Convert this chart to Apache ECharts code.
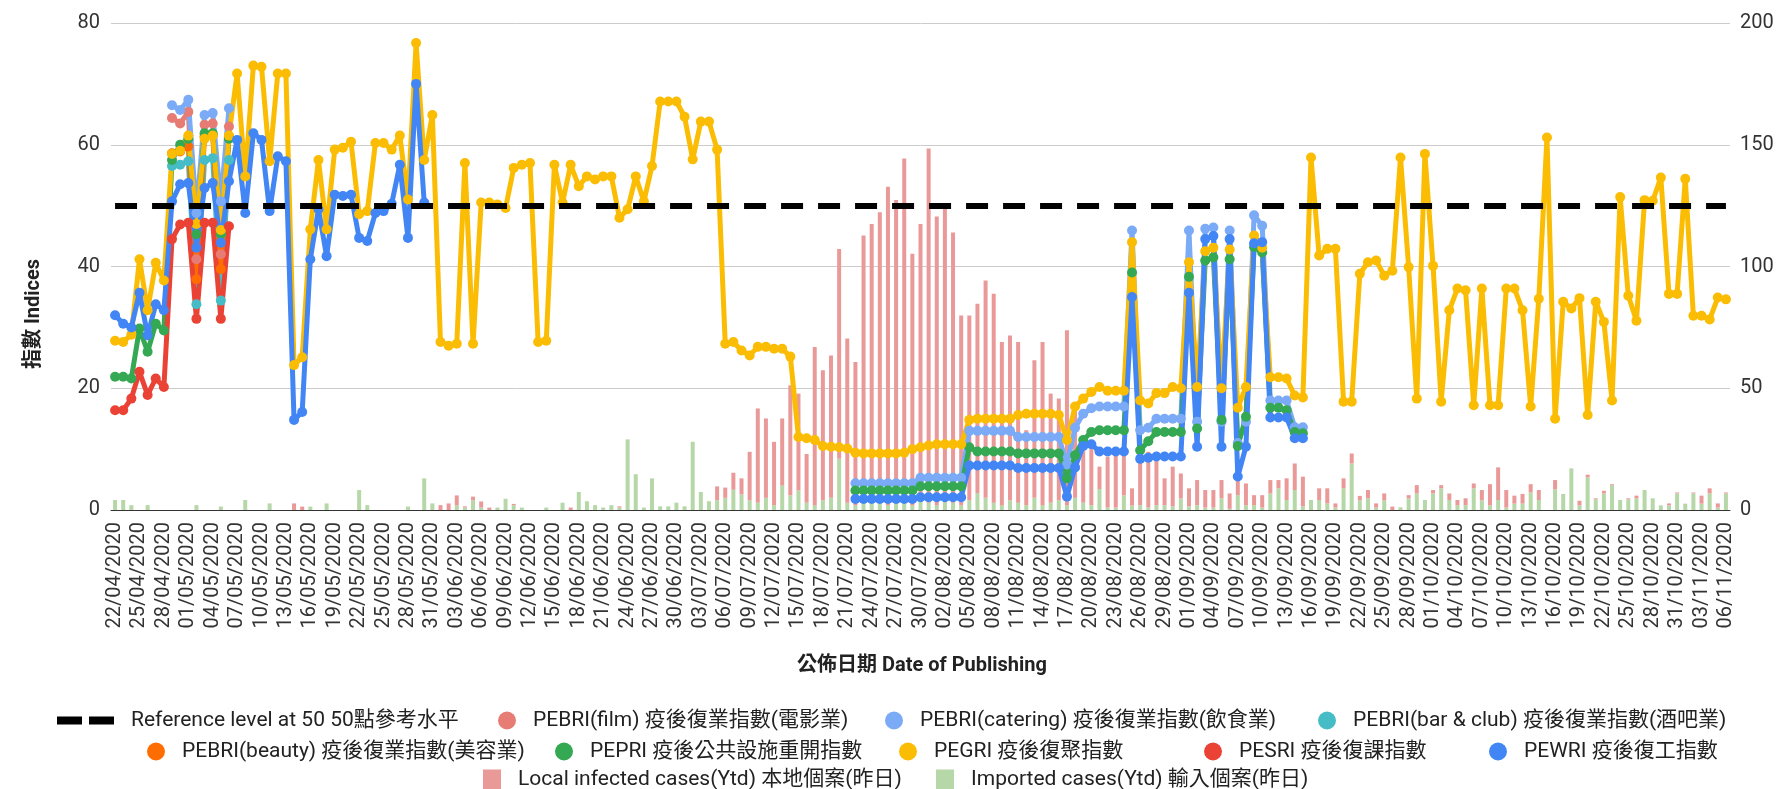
<!DOCTYPE html>
<html>
<head>
<meta charset="utf-8">
<script src="https://cdn.jsdelivr.net/npm/echarts@6.0.0/dist/echarts.min.js"></script>
<style>
html, body { margin: 0; padding: 0; background: #fff; }
#chart { width: 1777px; height: 789px; }
</style>
</head>
<body>
<div id="chart"></div>
<script>
var FONT = 'Roboto, "Noto Sans CJK TC", sans-serif';

// days run 22/04/2020 .. 06/11/2020
var dayCount = 199;
var dates = [];
for (var i = 0; i < dayCount; i++) {
    var d = new Date(Date.UTC(2020, 3, 22 + i));
    dates.push(pad2(d.getUTCDate()) + '/' + pad2(d.getUTCMonth() + 1) + '/' + d.getUTCFullYear());
}
function pad2(n) { return (n < 10 ? '0' : '') + n; }

var REF_LEVEL = 50;

// PEGRI, every day
var pegri = [
    27.8, 27.6, 28.8, 41.2, 32.8, 40.6, 37.7, 58.5, 59, 61.5,
    47, 61, 61.5, 46, 61.5, 71.7, 54.8, 73, 72.8, 57.3,
    71.7, 71.7, 23.8, 25.1, 46.1, 57.5, 46.1, 59.2, 59.5, 60.5,
    48.6, 49.1, 60.3, 60.3, 59.2, 61.5, 51, 76.7, 57.5, 64.9,
    27.6, 27, 27.3, 57, 27.3, 50.5, 50.5, 50.2, 49.6, 56.2,
    56.7, 57, 27.6, 27.8, 56.7, 50.5, 56.7, 53.2, 54.8, 54.3,
    54.8, 54.8, 48, 49.4, 54.8, 50.7, 56.5, 67.1, 67.1, 67.1,
    64.6, 57.6, 63.8, 63.8, 59.2, 27.3, 27.6, 26.2, 25.4, 26.8,
    26.8, 26.5, 26.5, 25.2, 12, 11.8, 11.5, 10.5, 10.4, 10.3,
    10.1, 9.4, 9.3, 9.3, 9.3, 9.3, 9.3, 9.4, 10, 10.3,
    10.6, 10.8, 10.8, 10.8, 10.8, 14.8, 15, 15, 15, 15,
    15, 15.6, 15.8, 15.8, 15.8, 15.8, 15.6, 11.5, 17, 18.3,
    19.4, 20.2, 19.6, 19.6, 19.6, 44, 18, 17.5, 19.2, 19.2,
    20.2, 20, 40.7, 20.2, 42.5, 43.1, 20, 42.8, 16.8, 20.2,
    45.1, 43.1, 21.8, 21.8, 21.6, 18.8, 18.5, 57.9, 41.8, 42.9,
    42.9, 17.8, 17.8, 38.8, 40.7, 41, 38.5, 39.3, 57.9, 39.9,
    18.3, 58.5, 40.1, 17.8, 32.8, 36.4, 36.1, 17.2, 36.4, 17.2,
    17.2, 36.4, 36.4, 32.8, 17, 34.7, 61.2, 15, 34.2, 33.1,
    34.8, 15.6, 34.2, 30.9, 18, 51.4, 35.2, 31.1, 50.9, 50.8,
    54.6, 35.5, 35.5, 54.4, 31.9, 31.9, 31.3, 34.9, 34.6
];

// runs: [first day index, values]
var pewriRuns = [
    [0, [32, 30.6, 30, 35.7, 28.7, 33.8, 32.8, 50.7, 53.5, 53.7,
         43.1, 52.9, 53.7, 43.9, 54, 60.8, 48.8, 61.9, 60.8, 49.1,
         58.1, 57.3, 14.8, 16.1, 41.2, 49.4, 41.7, 51.8, 51.6, 51.8,
         44.7, 44.2, 48.8, 49.1, 50.3, 56.7, 44.7, 70, 50.5]],
    [91, [1.8, 1.8, 1.8, 1.8, 1.8, 1.8, 1.8, 1.8,
          2.1, 2.1, 2.1, 2.1, 2.1, 2.1,
          7.3, 7.3, 7.3, 7.3, 7.3, 7.3,
          6.9, 6.9, 6.9, 6.9, 6.9, 6.9,
          2.2, 7, 10.5, 10.8, 9.6, 9.6, 9.6, 9.6, 35, 8.4,
          8.6, 8.8, 8.8, 8.8, 8.8, 35.7, 10.4, 44.5, 45, 10.4,
          44.5, 5.5, 10.4, 43.8, 44, 15.2, 15.2, 15.2, 11.8, 11.8]]
];
var pepriRuns = [
    [0, [21.9, 21.9, 21.6, 29.8, 26, 30.6, 29.5, 57.5, 60, 61, 45.3, 61.9, 61.9, 45.3, 61]],
    [91, [3.2, 3.2, 3.2, 3.2, 3.2, 3.2, 3.2, 3.2,
          3.9, 3.9, 3.9, 3.9, 3.9, 3.9,
          10.3, 9.6, 9.6, 9.6, 9.6, 9.6,
          9.3, 9.3, 9.3, 9.3, 9.3, 9.3,
          5.2, 9, 11.5, 12.8, 13.1, 13.1, 13.1, 13.1, 39, 9.8,
          11.3, 12.8, 12.8, 12.8, 12.8, 38.3, 13.4, 41, 41.5, 14.8,
          41.2, 10.5, 15.3, 43.2, 42.3, 16.8, 16.8, 16.4, 12.8, 12.6]]
];
var cateringRuns = [
    [7, [66.5, 65.7, 67.4, 48.8, 64.9, 65.2, 50.7, 66]],
    [91, [4.4, 4.4, 4.4, 4.4, 4.4, 4.4, 4.4, 4.4,
          5.3, 5.3, 5.3, 5.3, 5.3, 5.3,
          13, 13, 13, 13, 13, 13,
          12, 12, 12, 12, 12, 12,
          7.5, 13.5, 15.8, 16.7, 17, 17, 17, 17, 45.9, 13.1,
          13.5, 15, 15, 15, 15, 45.9, 14.5, 46.2, 46.4, 14.5,
          45.9, 11, 14.5, 48.4, 46.7, 18, 18, 18, 13.6, 13.6]]
];
var pesriRuns = [[0, [16.4, 16.4, 18.3, 22.7, 18.9, 21.6, 20.2, 44.5, 46.9, 47.2, 31.4, 47.2, 47.2, 31.4, 46.6]]];
var filmRuns = [[7, [64.4, 63.5, 65.4, 41.2, 63.3, 63.5, 42, 63]]];
var barClubRuns = [[7, [56.5, 56.7, 57.3, 33.8, 57.5, 57.8, 34.4, 57.5]]];
var beautyRuns = [[7, [58.6, 58.9, 59.7, 37.9, 61.4, 61.6, 39.6, 61.4]]];

// cases (right axis), every day
var importedCases = [
    4.1, 4.1, 2, 0, 2, 0, 0, 0, 0, 0,
    2, 0, 0, 1.4, 0, 0, 4.1, 0, 0, 2.7,
    0, 0, 0, 0, 1.4, 0, 2.7, 0, 0, 0,
    8.2, 2, 0, 0, 0, 0, 1.4, 0, 13, 2.7,
    0, 0, 2, 1, 4, 1, 0, 1, 4.6, 2,
    1, 0, 0, 1, 0, 3, 0, 7.4, 3.6, 2,
    1, 2, 1, 29, 14.7, 1, 13, 1.5, 1.5, 3,
    1.5, 28, 7.4, 3.6, 4, 5, 8.3, 6.4, 4, 3,
    5, 2, 10, 6, 8, 3, 2, 4, 5, 21,
    3, 2, 4, 3, 6, 2, 3, 5, 2, 4,
    3, 2, 6, 3, 2, 4, 7, 5, 3, 2,
    4, 3, 2, 5, 2, 3, 4, 2, 5, 3,
    2, 8.6, 1, 1, 6, 1.8, 2, 1, 2, 2,
    1.5, 4.8, 1.5, 2, 1, 1, 4.8, 0.5, 6.1, 2,
    2, 1, 6.8, 8.9, 4.1, 8.2, 1.5, 4.1, 4.1, 2.7,
    1, 8.9, 19.1, 4, 4.8, 1, 4, 0, 1.1, 4.8,
    6.8, 4.1, 6.8, 8.9, 4.1, 2, 2, 8.9, 4, 1.9,
    4.1, 1, 2.6, 2.6, 7.2, 4.1, 0, 8.5, 6.6, 17.1,
    1.9, 13.4, 4.4, 6.8, 10.2, 4.1, 4.4, 4.8, 8.2, 4.8,
    1.9, 1.9, 6.8, 2.6, 6.8, 2.6, 6.8, 1, 6.8
];
var localCases = [
    0, 0, 0, 0, 0, 0, 0, 0, 0, 0,
    0, 0, 0, 0, 0, 0, 0, 0, 0, 0,
    0, 0, 2.7, 1.4, 0, 0, 0, 0, 0, 0,
    0, 0, 0, 0, 0, 0, 0, 0, 0, 0,
    2, 2.7, 4, 0.5, 1.5, 2.5, 1, 0, 0, 0.5,
    0, 0, 0, 0, 0, 0, 1, 0, 0, 0,
    0, 0, 0.5, 0, 0, 0, 0, 0, 0, 0,
    0, 0, 0, 0, 5.7, 4.2, 7, 6.6, 19.9, 38.7,
    32.6, 26, 27.6, 45.2, 39.8, 20, 64.9, 53.4, 58.5, 86.2,
    67.4, 58.8, 108.7, 114.5, 116.3, 130.8, 124.3, 139.4, 103.2, 113.5,
    145.5, 118.5, 118.5, 111, 77.9, 75.9, 77.7, 89.3, 85.8, 67,
    67.7, 66, 30.8, 56.5, 67, 44.8, 41.8, 71.8, 38.7, 27,
    23, 9.2, 20.9, 22.2, 17.2, 7.1, 21.2, 22.9, 21.2, 11,
    16.3, 10.2, 7.4, 10.3, 7.2, 7.2, 7.5, 6.3, 8.9, 8.9,
    4.1, 5.1, 5.5, 3.4, 8.9, 10.9, 12.2, 0, 4.8, 6.2,
    1.7, 4.1, 4.1, 1.8, 3.4, 1.7, 2.8, 1.4, 0, 1.3,
    3.4, 0, 1.4, 1.3, 2.7, 2.1, 2.8, 2, 4.2, 8.7,
    13.4, 7.2, 3.3, 4, 3.4, 4.1, 0, 3.8, 0, 0,
    1.9, 1.1, 0.4, 1.1, 0.4, 0, 0.4, 1.1, 0, 0,
    0, 0.8, 0.4, 0, 0.4, 3.3, 2.1, 1.7, 0.4
];

var names = {
    ref: 'Reference level at 50 50點參考水平',
    film: 'PEBRI(film) 疫後復業指數(電影業)',
    catering: 'PEBRI(catering) 疫後復業指數(飲食業)',
    bar: 'PEBRI(bar & club) 疫後復業指數(酒吧業)',
    beauty: 'PEBRI(beauty) 疫後復業指數(美容業)',
    pepri: 'PEPRI 疫後公共設施重開指數',
    pegri: 'PEGRI 疫後復聚指數',
    pesri: 'PESRI 疫後復課指數',
    pewri: 'PEWRI 疫後復工指數',
    local: 'Local infected cases(Ytd) 本地個案(昨日)',
    imported: 'Imported cases(Ytd) 輸入個案(昨日)'
};

function fromRuns(runs) {
    var out = [];
    for (var i = 0; i < dayCount; i++) out.push(null);
    runs.forEach(function (r) {
        r[1].forEach(function (v, k) { out[r[0] + k] = v; });
    });
    return out;
}

function lineSeries(name, color, data) {
    return {
        name: name,
        type: 'line',
        yAxisIndex: 0,
        data: data,
        symbol: 'circle',
        symbolSize: 10,
        showAllSymbol: true,
        lineStyle: { width: 5, color: color },
        itemStyle: { color: color },
        emphasis: { disabled: true },
        z: 3
    };
}

// one legend box per entry so each sits where the original puts it
function legendItem(name, icon, left, rowMid, w, h) {
    return {
        data: [{ name: name, icon: icon }],
        left: left, top: rowMid - 11, padding: 0,
        itemWidth: w, itemHeight: h,
        textStyle: { fontFamily: FONT, fontSize: 21, color: '#222', padding: [0, 0, 0, 12] },
        selectedMode: false
    };
}

var chart = echarts.init(document.getElementById('chart'));
chart.setOption({
    animation: false,
    backgroundColor: '#fff',
    grid: { left: 111, right: 47, top: 23, bottom: 279 },
    xAxis: {
        type: 'category',
        data: dates,
        boundaryGap: true,
        axisTick: { show: false },
        axisLine: { lineStyle: { color: '#333', width: 1 } },
        axisLabel: { interval: 2, rotate: 90, margin: 12, fontFamily: FONT, fontSize: 20, color: '#333' }
    },
    yAxis: [{
        type: 'value', min: 0, max: 80, interval: 20,
        axisLine: { show: false }, axisTick: { show: false },
        axisLabel: { margin: 11, fontFamily: FONT, fontSize: 20, color: '#333' },
        splitLine: { lineStyle: { color: '#cccccc', width: 1 } }
    }, {
        type: 'value', min: 0, max: 200, interval: 50, position: 'right',
        axisLine: { show: false }, axisTick: { show: false },
        axisLabel: { margin: 10, fontFamily: FONT, fontSize: 20, color: '#333' },
        splitLine: { show: false }
    }],
    legend: [
        legendItem(names.ref, 'path://M0 0H25V8H0ZM32 0H57V8H32Z', 57, 721, 57, 8),
        legendItem(names.film, 'circle', 498, 721, 18, 18),
        legendItem(names.catering, 'circle', 885, 721, 18, 18),
        legendItem(names.bar, 'circle', 1318, 721, 18, 18),
        legendItem(names.beauty, 'circle', 147, 752, 18, 18),
        legendItem(names.pepri, 'circle', 555, 752, 18, 18),
        legendItem(names.pegri, 'circle', 899, 752, 18, 18),
        legendItem(names.pesri, 'circle', 1204, 752, 18, 18),
        legendItem(names.pewri, 'circle', 1489, 752, 18, 18),
        legendItem(names.local, 'rect', 483, 780, 18, 20),
        legendItem(names.imported, 'rect', 936, 780, 18, 20)
    ],
    graphic: [{
        type: 'text', x: 34, y: 314, rotation: Math.PI / 2,
        style: { text: '指數 Indices', fill: '#222', font: 'bold 20px ' + FONT, align: 'center', verticalAlign: 'middle' }
    }, {
        type: 'text', x: 922, y: 666,
        style: { text: '公佈日期 Date of Publishing', fill: '#222', font: 'bold 20px ' + FONT, align: 'center', verticalAlign: 'middle' }
    }],
    series: [
        {
            name: names.imported, type: 'bar', yAxisIndex: 1, stack: 'cases',
            data: importedCases, barWidth: 4, itemStyle: { color: '#b6d7a8' },
            emphasis: { disabled: true }, z: 1
        },
        {
            name: names.local, type: 'bar', yAxisIndex: 1, stack: 'cases',
            data: localCases, barWidth: 4, itemStyle: { color: '#ea9999' },
            emphasis: { disabled: true }, z: 1
        },
        {
            name: names.ref, type: 'line', yAxisIndex: 0, data: [],
            itemStyle: { color: '#000' }, lineStyle: { color: '#000' }, z: 2,
            markLine: {
                silent: true, symbol: ['none', 'none'], label: { show: false },
                lineStyle: { color: '#000', width: 6, type: [22, 15] },
                data: [[{ coord: [dates[0], REF_LEVEL] }, { coord: [dates[dayCount - 1], REF_LEVEL] }]]
            }
        },
        lineSeries(names.film, '#e67c73', fromRuns(filmRuns)),
        lineSeries(names.catering, '#7baaf7', fromRuns(cateringRuns)),
        lineSeries(names.bar, '#46bdc6', fromRuns(barClubRuns)),
        lineSeries(names.beauty, '#ff6d01', fromRuns(beautyRuns)),
        lineSeries(names.pepri, '#34a853', fromRuns(pepriRuns)),
        lineSeries(names.pegri, '#fbbc04', pegri),
        lineSeries(names.pesri, '#ea4335', fromRuns(pesriRuns)),
        lineSeries(names.pewri, '#4285f4', fromRuns(pewriRuns))
    ]
});
</script>
</body>
</html>
